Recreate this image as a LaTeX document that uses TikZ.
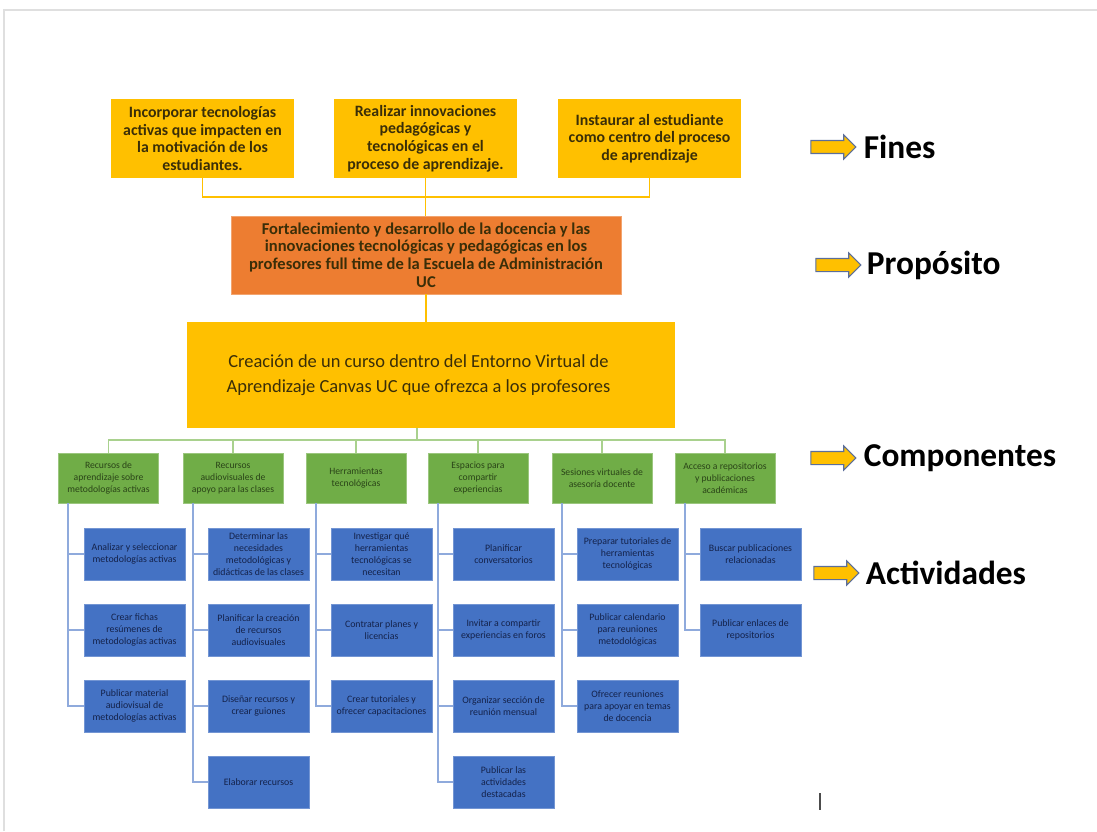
\documentclass[tikz,border=0pt]{standalone}
\usepackage{fontspec}
\setmainfont{Carlito}
\usetikzlibrary{calc,positioning,shapes.arrows}

\definecolor{finy}{HTML}{FFC000}
\definecolor{propo}{HTML}{ED7D31}
\definecolor{compg}{HTML}{70AD47}
\definecolor{actb}{HTML}{4472C4}
\definecolor{busg}{HTML}{A9D18E}
\definecolor{spineb}{HTML}{8FAADC}
\definecolor{txtfin}{HTML}{3A2E08}
\definecolor{txtcomp}{HTML}{2A4418}
\definecolor{txtact}{HTML}{14224A}
\definecolor{arrline}{HTML}{5B6E9A}

\tikzset{
  fin/.style={fill=finy, minimum width=3.66cm, minimum height=1.58cm, inner sep=0pt,
    align=center, text=txtfin, font=\fontsize{9}{10}\selectfont\bfseries},
  prop/.style={fill=propo, draw=propo!70!white, minimum width=7.8cm, minimum height=1.56cm,
    inner sep=0pt, align=center, text=txtfin, font=\fontsize{9.4}{10}\selectfont\bfseries},
  curso/.style={fill=finy, minimum width=9.76cm, minimum height=2.12cm, inner sep=0pt,
    align=center, text=txtfin, font=\fontsize{10.5}{14}\selectfont},
  comp/.style={fill=compg, draw=compg!70!white, minimum width=2cm, minimum height=1cm,
    inner sep=0pt, align=center, text=txtcomp, font=\fontsize{5.5}{6.8}\selectfont},
  act/.style={fill=actb, draw=actb!75!white, minimum width=2.02cm, minimum height=1.04cm,
    inner sep=0pt, align=center, text=txtact, font=\fontsize{5.6}{6.8}\selectfont},
  finline/.style={finy, line width=1pt},
  busline/.style={busg, line width=1pt},
  spineline/.style={spineb, line width=1pt},
  tag/.style={single arrow, fill=finy, draw=arrline, line width=0.6pt, inner xsep=0pt,
    inner ysep=0.12cm, minimum height=0.9cm, single arrow head extend=0.11cm},
  taglabel/.style={font=\fontsize{19}{22}\selectfont\bfseries, inner sep=0pt, anchor=west}
}

\begin{document}
\begin{tikzpicture}[x=0.02cm, y=-0.02cm]
  \useasboundingbox (0,0) rectangle (1097,831);
  \draw[gray!25, line width=0.8pt] (4,831) -- (4,10) -- (1097,10);

  % fines
  \node[fin] (f1) at (202.5,138.5) {Incorporar tecnologías\\activas que impacten en\\la motivación de los\\estudiantes.};
  \node[fin] (f2) at (425.5,138.5) {Realizar innovaciones\\pedagógicas y\\tecnológicas en el\\proceso de aprendizaje.};
  \node[fin] (f3) at (649.5,138.5) {Instaurar al estudiante\\como centro del proceso\\de aprendizaje};

  % proposito y curso
  \node[prop] (p) at (426,255) {Fortalecimiento y desarrollo de la docencia y las\\innovaciones tecnológicas y pedagógicas en los\\profesores full time de la Escuela de Administración\\UC};
  \node[curso] (c) at (431,375) {\hspace*{-0.5cm}Creación de un curso dentro del Entorno Virtual de\\\hspace*{-0.5cm}Aprendizaje Canvas UC que ofrezca a los profesores};

  \coordinate (fb) at (426,197);
  \draw[finline] (f1.south) |- (fb) -| (f3.south);
  \draw[finline] (f2.south) -- (f2.south |- p.north);
  \draw[finline] (p.south) -- (p.south |- c.north);

  % componentes
  \node[comp] (g1) at (108.5,478) {Recursos de\\aprendizaje sobre\\metodologías activas};
  \node[comp] (g2) at (233,478) {Recursos\\audiovisuales de\\apoyo para las clases};
  \node[comp] (g3) at (356,478) {Herramientas\\tecnológicas};
  \node[comp] (g4) at (478,478) {Espacios para\\compartir\\experiencias};
  \node[comp] (g5) at (602,478) {Sesiones virtuales de\\asesoría docente};
  \node[comp] (g6) at (725,478) {Acceso a repositorios\\y publicaciones\\académicas};

  \coordinate (gb) at (417,440);
  \draw[busline] (gb |- c.south) -- (gb);
  \draw[busline] (g1.north) |- (gb) -| (g6.north);
  \foreach \g in {2,3,4,5}
    \draw[busline] (g\g.north) -- (g\g.north |- gb);

  % actividades
  \node[act] (a11) at (134.5,554) {Analizar y seleccionar\\metodologías activas};
  \node[act] (a12) at (134.5,630) {Crear fichas\\resúmenes de\\metodologías activas};
  \node[act] (a13) at (134.5,706) {Publicar material\\audiovisual de\\metodologías activas};

  \node[act] (a21) at (258.5,554) {Determinar las\\necesidades\\metodológicas y\\didácticas de las clases};
  \node[act] (a22) at (258.5,630) {Planificar la creación\\de recursos\\audiovisuales};
  \node[act] (a23) at (258.5,706) {Diseñar recursos y\\crear guiones};
  \node[act] (a24) at (258.5,782) {Elaborar recursos};

  \node[act] (a31) at (381.5,554) {Investigar qué\\herramientas\\tecnológicas se\\necesitan};
  \node[act] (a32) at (381.5,630) {Contratar planes y\\licencias};
  \node[act] (a33) at (381.5,706) {Crear tutoriales y\\ofrecer capacitaciones};

  \node[act] (a41) at (503.5,554) {Planificar\\conversatorios};
  \node[act] (a42) at (503.5,630) {Invitar a compartir\\experiencias en foros};
  \node[act] (a43) at (503.5,706) {Organizar sección de\\reunión mensual};
  \node[act] (a44) at (503.5,782) {Publicar las\\actividades\\destacadas};

  \node[act] (a51) at (627.5,554) {Preparar tutoriales de\\herramientas\\tecnológicas};
  \node[act] (a52) at (627.5,630) {Publicar calendario\\para reuniones\\metodológicas};
  \node[act] (a53) at (627.5,706) {Ofrecer reuniones\\para apoyar en temas\\de docencia};

  \node[act] (a61) at (750.5,554) {Buscar publicaciones\\relacionadas};
  \node[act] (a62) at (750.5,630) {Publicar enlaces de\\repositorios};

  \foreach \g/\n in {1/3,2/4,3/3,4/4,5/3,6/2} {
    \coordinate (s\g) at ($(g\g.south west)+(10,0)$);
    \draw[spineline] (s\g) |- (a\g\n.west);
    \foreach \r in {1,...,\n}
      \draw[spineline] (s\g |- a\g\r.west) -- (a\g\r.west);
  }

  % niveles
  \node[tag] (t1) at (830,147) {};
  \node[taglabel, right=0.14cm of t1.east] (l1) {Fines};
  \node[tag] (t2) at (835,265) {};
  \node[taglabel, right=0.1cm of t2.east] (l2) {Propósito};
  \node[tag] (t3) at (830,458) {};
  \node[taglabel, right=0.14cm of t3.east] (l3) {Componentes};
  \node[tag] (t4) at (833,573) {};
  \node[taglabel, right=0.12cm of t4.east] (l4) {Actividades};

  \draw[black!70, line width=1.2pt] (820,793) -- (820,810);
\end{tikzpicture}
\end{document}
